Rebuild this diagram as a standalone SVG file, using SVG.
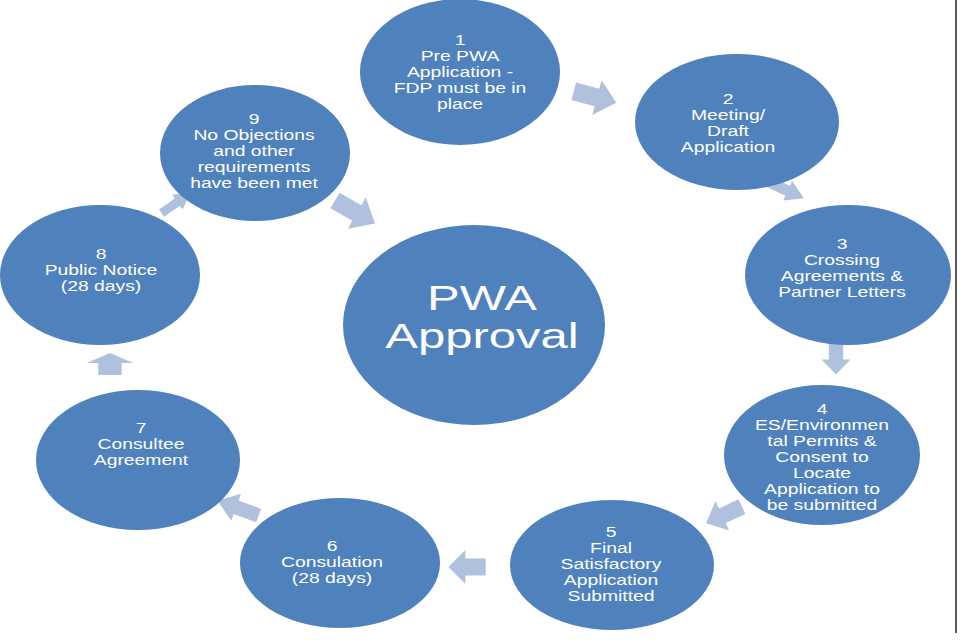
<svg xmlns="http://www.w3.org/2000/svg" width="960" height="640" viewBox="0 0 960 640">
<style>
.n{fill:#4F81BD}
.t{fill:#fff;font-family:"Liberation Sans",Arial,sans-serif;font-size:14px;text-anchor:middle}
.c{fill:#fff;font-family:"Liberation Sans",Arial,sans-serif;font-size:35px;text-anchor:middle}
.a{fill:#B0C1DE}
</style>
<defs>
<path id="arr" d="M-22,-9 L2,-9 L2,-18 L22,0 L2,18 L2,9 L-22,9 Z"/>
</defs>
<rect width="960" height="640" fill="#fff"/>
<line x1="956" y1="0" x2="956" y2="633" stroke="#222" stroke-width="1.5"/>
<g id="connectors" class="a">
<use href="#arr" transform="translate(595,97) rotate(15)"/>
<use href="#arr" transform="translate(786,190) rotate(25) scale(0.9,0.6)"/>
<use href="#arr" transform="translate(836,358) rotate(90) scale(0.75,0.8)"/>
<use href="#arr" transform="translate(724,515) rotate(155) scale(0.9,0.9)"/>
<use href="#arr" transform="translate(467,567) rotate(180) scale(0.85,0.95)"/>
<use href="#arr" transform="translate(238,508) rotate(200) scale(1,0.8)"/>
<use href="#arr" transform="translate(110,364) rotate(-90) scale(0.5,1.3)"/>
<use href="#arr" transform="translate(176,203) rotate(-35) scale(0.8,0.5)"/>
<use href="#arr" transform="translate(355,212) rotate(30) scale(1.05,1)"/>
</g>
<g id="center"><ellipse class="n" cx="474" cy="325" rx="131" ry="100"/>
<g transform="translate(482,0) scale(1.4,1)"><text class="c" x="0" y="310">PWA</text><text class="c" x="0" y="348">Approval</text></g></g>
<g id="n1"><ellipse class="n" cx="460" cy="72" rx="100" ry="73"/>
<g transform="translate(460,0) scale(1.38,1)"><text class="t" x="0" y="45">1</text><text class="t" x="0" y="61">Pre PWA</text><text class="t" x="0" y="77">Application -</text><text class="t" x="0" y="93">FDP must be in</text><text class="t" x="0" y="109">place</text></g></g>
<g id="n2"><ellipse class="n" cx="737" cy="122" rx="102" ry="68"/>
<g transform="translate(728,0) scale(1.38,1)"><text class="t" x="0" y="104">2</text><text class="t" x="0" y="120">Meeting/</text><text class="t" x="0" y="136">Draft</text><text class="t" x="0" y="152">Application</text></g></g>
<g id="n3"><ellipse class="n" cx="848" cy="275" rx="103" ry="70"/>
<g transform="translate(842,0) scale(1.38,1)"><text class="t" x="0" y="249">3</text><text class="t" x="0" y="265">Crossing</text><text class="t" x="0" y="281">Agreements &amp;</text><text class="t" x="0" y="297">Partner Letters</text></g></g>
<g id="n4"><ellipse class="n" cx="822" cy="455" rx="98" ry="70"/>
<g transform="translate(822,0) scale(1.38,1)"><text class="t" x="0" y="414">4</text><text class="t" x="0" y="430">ES/Environmen</text><text class="t" x="0" y="446">tal Permits &amp;</text><text class="t" x="0" y="462">Consent to</text><text class="t" x="0" y="478">Locate</text><text class="t" x="0" y="494">Application to</text><text class="t" x="0" y="510">be submitted</text></g></g>
<g id="n5"><ellipse class="n" cx="612" cy="565" rx="102" ry="65"/>
<g transform="translate(611,0) scale(1.38,1)"><text class="t" x="0" y="537">5</text><text class="t" x="0" y="553">Final</text><text class="t" x="0" y="569">Satisfactory</text><text class="t" x="0" y="585">Application</text><text class="t" x="0" y="601">Submitted</text></g></g>
<g id="n6"><ellipse class="n" cx="340" cy="563" rx="100" ry="65"/>
<g transform="translate(332,0) scale(1.38,1)"><text class="t" x="0" y="551">6</text><text class="t" x="0" y="567">Consulation</text><text class="t" x="0" y="583">(28 days)</text></g></g>
<g id="n7"><ellipse class="n" cx="138" cy="460" rx="102" ry="70"/>
<g transform="translate(141,0) scale(1.38,1)"><text class="t" x="0" y="433">7</text><text class="t" x="0" y="449">Consultee</text><text class="t" x="0" y="465">Agreement</text></g></g>
<g id="n8"><ellipse class="n" cx="100" cy="275" rx="100" ry="70"/>
<g transform="translate(101,0) scale(1.38,1)"><text class="t" x="0" y="259">8</text><text class="t" x="0" y="275">Public Notice</text><text class="t" x="0" y="291">(28 days)</text></g></g>
<g id="n9"><ellipse class="n" cx="255" cy="153" rx="95" ry="68"/>
<g transform="translate(254,0) scale(1.38,1)"><text class="t" x="0" y="124">9</text><text class="t" x="0" y="140">No Objections</text><text class="t" x="0" y="156">and other</text><text class="t" x="0" y="172">requirements</text><text class="t" x="0" y="188">have been met</text></g></g>
</svg>
